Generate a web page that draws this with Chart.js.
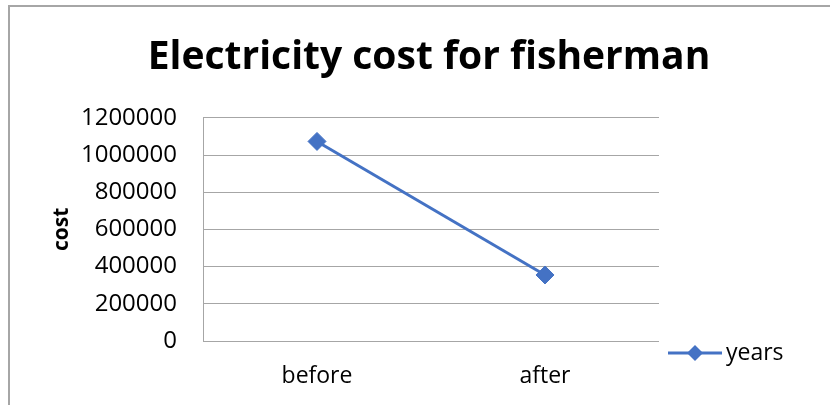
<!DOCTYPE html>
<html lang="en">
<head>
  <meta charset="UTF-8">
  <title>Electricity cost for fisherman</title>
  <script src="https://cdn.jsdelivr.net/npm/chart.js"></script>
  <style>
    body {
      margin: 0;
      background: #ffffff;
    }

    #wrap {
      position: relative;
      width: 830px;
      height: 405px;
      overflow: hidden;
    }

    /* chart frame, only the left and top edges show in the picture */
    #frame {
      position: absolute;
      left: 8px;
      top: 5px;
      width: 900px;
      height: 500px;
      border-left: 2px solid #a6a6a6;
      border-top: 2px solid #a6a6a6;
    }

    #chart-container {
      position: absolute;
      left: 0;
      top: 0;
      width: 830px;
      height: 405px;
    }
  </style>
</head>
<body>

  <div id="wrap">
    <div id="frame"></div>
    <div id="chart-container">
      <canvas id="costChart"></canvas>
    </div>
  </div>

  <script>
    const categories = ['before', 'after'];
    const costValues = [1073000, 355000];
    const seriesName = 'years';
    const yTicks = [0, 200000, 400000, 600000, 800000, 1000000, 1200000];

    const lineColor = '#4472c4';
    const gridColor = '#a6a6a6';
    const fontFamily = '"Open Sans", "Liberation Sans", sans-serif';

    // legend drawn as line + diamond, like the spreadsheet one
    const legendPlugin = {
      id: 'lineLegend',
      afterDraw(chart) {
        const ctx = chart.ctx;
        const area = chart.chartArea;
        const ds = chart.data.datasets[0];
        const x0 = area.right + 9;
        const y = area.bottom + 12;
        ctx.save();
        ctx.strokeStyle = ds.borderColor;
        ctx.lineWidth = 3;
        ctx.beginPath();
        ctx.moveTo(x0, y);
        ctx.lineTo(x0 + 54, y);
        ctx.stroke();
        ctx.fillStyle = ds.borderColor;
        ctx.beginPath();
        ctx.moveTo(x0 + 27 - 8, y);
        ctx.lineTo(x0 + 27, y - 8);
        ctx.lineTo(x0 + 27 + 8, y);
        ctx.lineTo(x0 + 27, y + 8);
        ctx.closePath();
        ctx.fill();
        ctx.fillStyle = '#000000';
        ctx.font = '23px ' + fontFamily;
        ctx.textBaseline = 'middle';
        ctx.textAlign = 'left';
        ctx.fillText(ds.label, x0 + 58, y);
        ctx.restore();
      }
    };

    const ctx = document.getElementById('costChart').getContext('2d');
    new Chart(ctx, {
      type: 'line',
      data: {
        labels: categories,
        datasets: [{
          label: seriesName,
          data: costValues,
          borderColor: lineColor,
          backgroundColor: lineColor,
          borderWidth: 3,
          pointStyle: 'rectRot',
          pointRadius: 9,
          pointHoverRadius: 9,
          pointBorderWidth: 1,
          tension: 0
        }]
      },
      options: {
        responsive: true,
        maintainAspectRatio: false,
        animation: false,
        layout: {
          padding: { left: 28, right: 0, top: 0, bottom: 14 }
        },
        plugins: {
          legend: { display: false },
          tooltip: { enabled: false },
          title: {
            display: true,
            text: 'Electricity cost for fisherman',
            color: '#000000',
            font: { family: fontFamily, size: 39, weight: 'bold', lineHeight: 1.2 },
            padding: { top: 34, bottom: 37 }
          }
        },
        scales: {
          x: {
            offset: true,
            grid: { display: false, drawTicks: false },
            border: { display: false },
            ticks: {
              color: '#000000',
              padding: 22,
              font: { family: fontFamily, size: 23 }
            },
            afterFit(scale) {
              scale.height = 50;
            }
          },
          y: {
            min: 0,
            max: yTicks[yTicks.length - 1],
            afterBuildTicks(scale) {
              scale.ticks = yTicks.map(v => ({ value: v }));
            },
            grid: { color: gridColor, lineWidth: 1, drawTicks: false },
            border: { display: true, color: gridColor, width: 1 },
            ticks: {
              color: '#000000',
              padding: 26,
              font: { family: fontFamily, size: 24 },
              callback: v => String(v)
            },
            title: {
              display: true,
              text: 'cost',
              color: '#000000',
              font: { family: fontFamily, size: 21, weight: 'bold', lineHeight: 1.2 },
              padding: { top: 21, bottom: 0 }
            },
            afterFit(scale) {
              scale.width = 175;
            }
          },
          // empty axis on the right keeps room for the legend
          legendSpace: {
            position: 'right',
            grid: { display: false, drawTicks: false },
            border: { display: false },
            ticks: { display: false },
            afterFit(scale) {
              scale.width = 171;
            }
          }
        }
      },
      plugins: [legendPlugin]
    });
  </script>

</body>
</html>
